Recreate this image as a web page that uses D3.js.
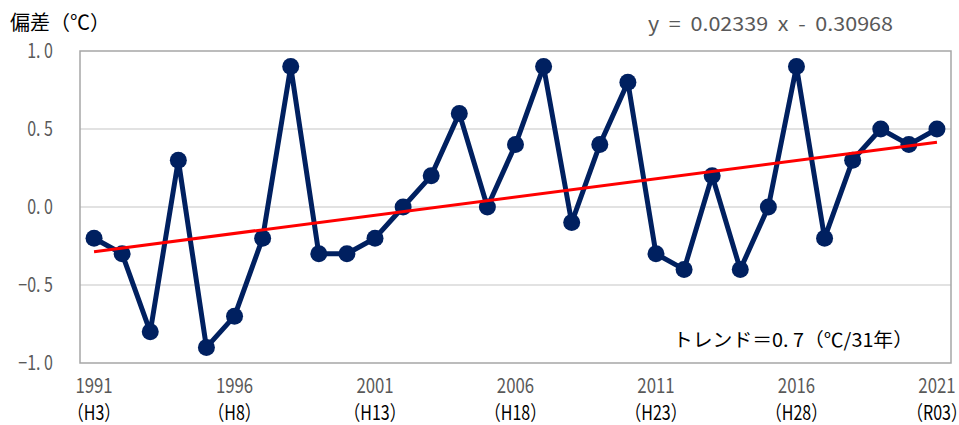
<!DOCTYPE html>
<html><head><meta charset="utf-8">
<script src="https://cdn.jsdelivr.net/npm/d3@7/dist/d3.min.js"></script>
<style>body{margin:0;background:#fff;}svg{display:block;}</style>
</head><body>
<svg id="c" width="959" height="425"></svg>
<script>
const years = [1991,1992,1993,1994,1995,1996,1997,1998,1999,2000,2001,2002,2003,2004,2005,2006,2007,2008,2009,2010,2011,2012,2013,2014,2015,2016,2017,2018,2019,2020,2021];
const anomaly = [-0.2,-0.3,-0.8,0.3,-0.9,-0.7,-0.2,0.9,-0.3,-0.3,-0.2,0.0,0.2,0.6,0.0,0.4,0.9,-0.1,0.4,0.8,-0.3,-0.4,0.2,-0.4,0.0,0.9,-0.2,0.3,0.5,0.4,0.5];
const yTicks = [-1.0,-0.5,0.0,0.5,1.0];
const xTickYears = [1991,1996,2001,2006,2011,2016,2021];
const eraLabels = ["（H3）","（H8）","（H13）","（H18）","（H23）","（H28）","（R03）"];
const slope = 0.02339, intercept = -0.30968;
const titleText = "偏差（℃）";
const eqText = "y = 0.02339 x - 0.30968";
const trendText = "トレンド＝0. 7（℃/31年）";

const svg = d3.select("#c");
const L=80, R=951, T=51, B=363;
const x = d3.scaleLinear().domain([years[0]-0.5, years[years.length-1]+0.5]).range([L,R]);
const y = d3.scaleLinear().domain([-1,1]).range([B,T]);
const font = "'Noto Sans CJK JP', sans-serif";

// gridlines
svg.append("g").selectAll("line").data(yTicks.filter(d=>d>-1 && d<1)).join("line")
  .attr("x1",L).attr("x2",R).attr("y1",d=>y(d)).attr("y2",d=>y(d))
  .attr("stroke","#d9d9d9").attr("stroke-width",1.3);
// frame
svg.append("rect").attr("x",L).attr("y",T).attr("width",R-L).attr("height",B-T)
  .attr("fill","none").attr("stroke","#a6a6a6").attr("stroke-width",1.5);

// y tick labels (narrow, tall digits)
svg.append("g").selectAll("text").data(yTicks).join("text")
  .attr("transform",d=>`translate(53,${y(d)}) scale(0.8,1)`)
  .attr("dy","0.36em").attr("text-anchor","end")
  .attr("font-family",font).attr("font-size",20).attr("fill","#595959")
  .text(d=>d.toFixed(1).replace(".",". ").replace("-","−"));

// x tick labels
const xg = svg.append("g");
xg.selectAll("text.yr").data(xTickYears).join("text").attr("class","yr")
  .attr("transform",d=>`translate(${x(d)},393) scale(0.8,1)`).attr("text-anchor","middle")
  .attr("font-family",font).attr("font-size",21).attr("fill","#595959").text(d=>d);
xg.selectAll("text.era").data(xTickYears).join("text").attr("class","era")
  .attr("transform",d=>`translate(${x(d)},420) scale(0.8,1)`).attr("text-anchor","middle")
  .attr("font-family",font).attr("font-size",20).attr("fill","#000")
  .text((d,i)=>eraLabels[i]);

// data line
const data = years.map((yr,i)=>({yr,v:anomaly[i]}));
svg.append("path").datum(data)
  .attr("d",d3.line().x(d=>x(d.yr)).y(d=>y(d.v)))
  .attr("fill","none").attr("stroke","#002060").attr("stroke-width",5).attr("stroke-linejoin","round");
svg.append("g").selectAll("circle").data(data).join("circle")
  .attr("cx",d=>x(d.yr)).attr("cy",d=>y(d.v)).attr("r",8.5).attr("fill","#002060");

// trend line
const n = years.length;
svg.append("line")
  .attr("x1",x(years[0])).attr("y1",y(slope*1+intercept))
  .attr("x2",x(years[n-1])).attr("y2",y(slope*n+intercept))
  .attr("stroke","#ff0000").attr("stroke-width",3);

// title
svg.append("text").attr("x",10).attr("y",30).attr("font-family",font).attr("font-size",20)
  .attr("fill","#000").text(titleText);
// equation
svg.append("text").attr("x",648).attr("y",31)
  .attr("font-family",font).attr("font-size",19).attr("fill","#595959")
  .attr("textLength",245).attr("lengthAdjust","spacingAndGlyphs")
  .style("white-space","pre").text(eqText.replace(/ /g,"  "));
// trend text
svg.append("text").attr("x",673).attr("y",347)
  .attr("font-family",font).attr("font-size",19).attr("fill","#000")
  .attr("textLength",240).attr("lengthAdjust","spacingAndGlyphs").text(trendText);
</script>
</body></html>
